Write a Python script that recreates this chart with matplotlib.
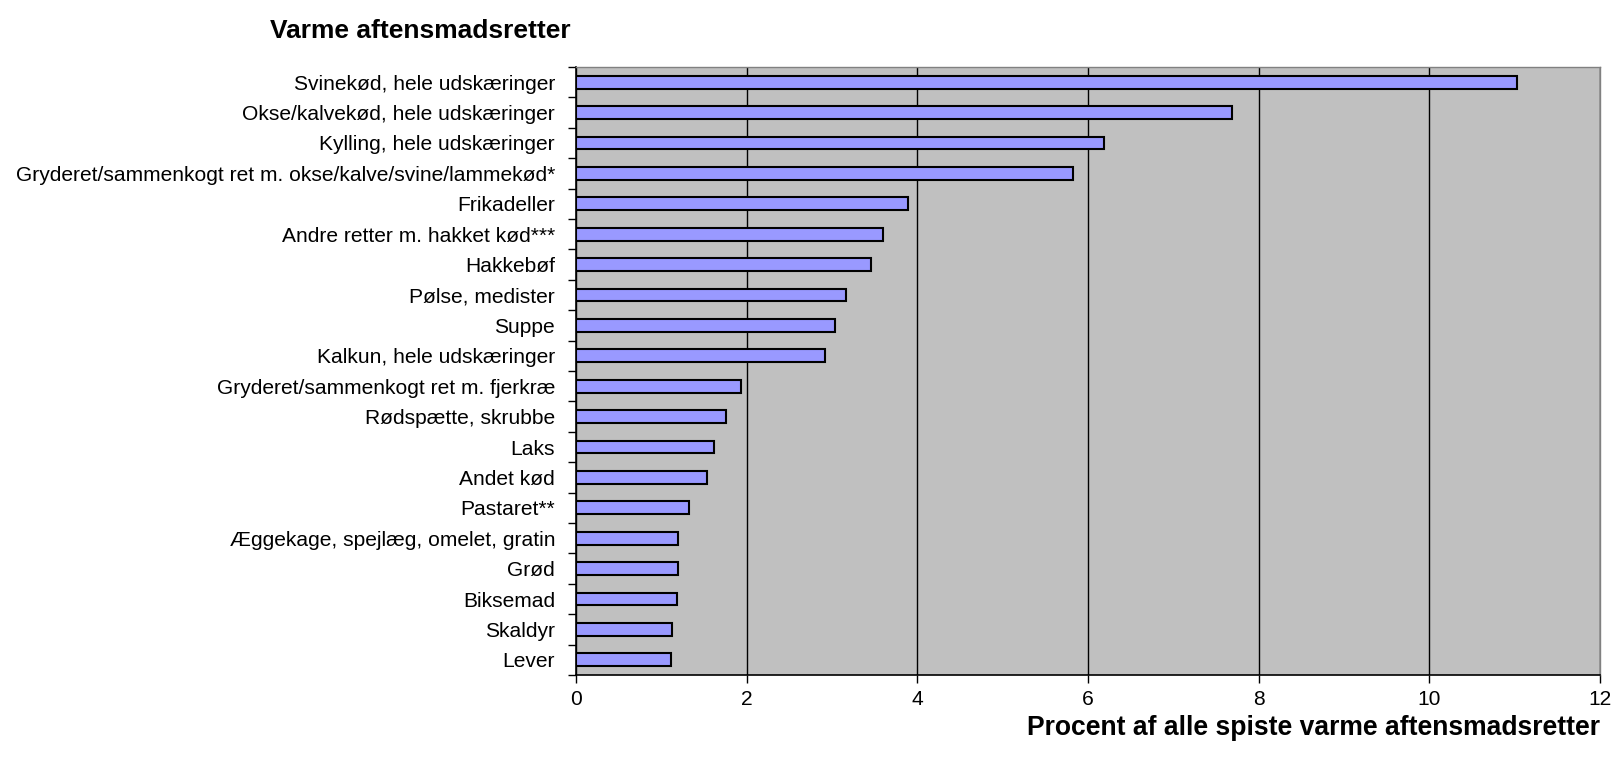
import numpy as np
import matplotlib.pyplot as plt
from matplotlib.ticker import FixedLocator

plt.rcParams['font.family'] = ['Liberation Sans', 'DejaVu Sans']

# Data
categories = [
    "Svinekød, hele udskæringer",
    "Okse/kalvekød, hele udskæringer",
    "Kylling, hele udskæringer",
    "Gryderet/sammenkogt ret m. okse/kalve/svine/lammekød*",
    "Frikadeller",
    "Andre retter m. hakket kød***",
    "Hakkebøf",
    "Pølse, medister",
    "Suppe",
    "Kalkun, hele udskæringer",
    "Gryderet/sammenkogt ret m. fjerkræ",
    "Rødspætte, skrubbe",
    "Laks",
    "Andet kød",
    "Pastaret**",
    "Æggekage, spejlæg, omelet, gratin",
    "Grød",
    "Biksemad",
    "Skaldyr",
    "Lever",
]
values = [11.03, 7.69, 6.19, 5.82, 3.89, 3.60, 3.46, 3.16, 3.04, 2.92,
          1.93, 1.76, 1.62, 1.53, 1.32, 1.20, 1.20, 1.18, 1.13, 1.11]
x_ticks = [0, 2, 4, 6, 8, 10, 12]

fig = plt.figure(figsize=(16.16, 7.68), dpi=100)
ax = fig.add_axes([0.3564, 0.121, 0.6337, 0.7918])
ax.set_facecolor('#C0C0C0')

y = np.arange(len(categories))
ax.barh(y, values, height=0.42, color='#9999FF', edgecolor='black',
        linewidth=1.5, zorder=3)

ax.set_xlim(0, 12)
ax.set_ylim(len(categories) - 0.5, -0.5)
ax.set_xticks(x_ticks)
ax.set_xticklabels([str(t) for t in x_ticks], fontsize=15.1)
ax.xaxis.grid(True, color='black', linewidth=1, zorder=1)
ax.set_axisbelow(True)

ax.set_yticks(y)
ax.set_yticklabels(categories, fontsize=15.1)
ax.tick_params(axis='y', which='major', length=0, pad=15)
ax.yaxis.set_minor_locator(FixedLocator(np.arange(-0.5, len(categories), 1.0)))
ax.tick_params(axis='y', which='minor', length=6, width=1, color='black')
ax.tick_params(axis='x', which='major', length=6, width=1, pad=5)

for side in ['top', 'right']:
    ax.spines[side].set_color('#808080')
    ax.spines[side].set_linewidth(1)
for side in ['left', 'bottom']:
    ax.spines[side].set_color('black')
    ax.spines[side].set_linewidth(1.2)

fig.text(270 / 1616, 1 - 31 / 768, "Varme aftensmadsretter", fontsize=19,
         fontweight='bold', va='center', ha='left')
fig.text(1600 / 1616, 1 - 728 / 768, "Procent af alle spiste varme aftensmadsretter",
         fontsize=19.1, fontweight='bold', va='center', ha='right')

fig.savefig('out.png', dpi=100)
